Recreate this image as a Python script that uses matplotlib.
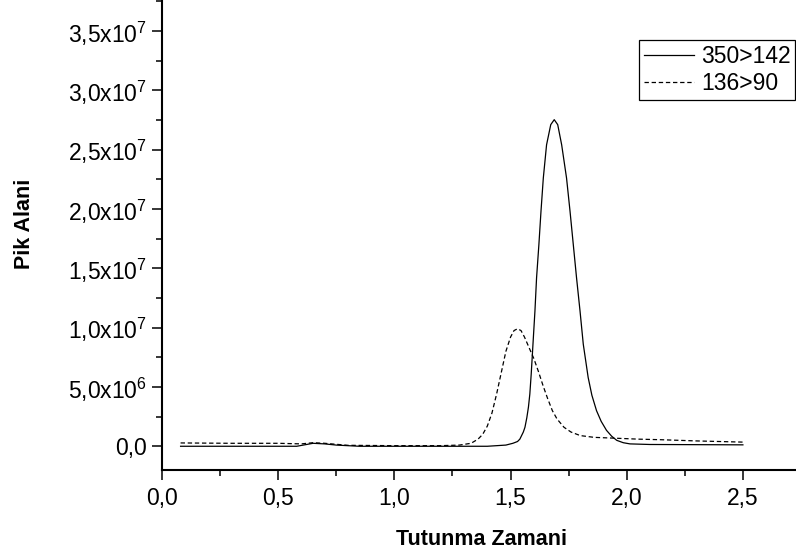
import matplotlib
matplotlib.use('Agg')
import matplotlib.pyplot as plt
from matplotlib.ticker import MultipleLocator

plt.rcParams['font.family'] = ['Liberation Sans', 'DejaVu Sans']
plt.rcParams['mathtext.fontset'] = 'custom'
plt.rcParams['mathtext.rm'] = 'Liberation Sans'
plt.rcParams['mathtext.default'] = 'regular'

# retention time (x) and peak area (y, in 1e7)
x_350 = [0.08, 0.30, 0.50, 0.58, 0.65, 0.70, 0.75, 0.85, 1.00, 1.20, 1.40, 1.48,
         1.51, 1.53, 1.54, 1.555, 1.562, 1.570, 1.577, 1.583, 1.589, 1.595, 1.605,
         1.612, 1.622, 1.631, 1.641, 1.655, 1.673, 1.688, 1.703, 1.720, 1.741,
         1.756, 1.770, 1.784, 1.799, 1.813, 1.834, 1.850, 1.870, 1.890, 1.913,
         1.935, 1.957, 1.985, 2.014, 2.10, 2.50]
y_350 = [0.0, 0.0, 0.0, 0.0, 0.025, 0.02, 0.01, 0.0, 0.0, 0.0, 0.0, 0.01,
         0.025, 0.04, 0.06, 0.12, 0.16, 0.24, 0.33, 0.44, 0.61, 0.81, 1.14,
         1.42, 1.70, 1.98, 2.26, 2.54, 2.71, 2.752, 2.71, 2.54, 2.26,
         1.98, 1.70, 1.42, 1.14, 0.86, 0.58, 0.43, 0.30, 0.21, 0.134,
         0.085, 0.05, 0.03, 0.02, 0.015, 0.012]

x_136 = [0.08, 0.30, 0.50, 0.60, 0.65, 0.70, 0.80, 1.00, 1.20, 1.28, 1.33, 1.36,
         1.38, 1.40, 1.42, 1.44, 1.46, 1.48, 1.50, 1.515, 1.53, 1.545, 1.56, 1.58,
         1.60, 1.62, 1.64, 1.66, 1.68, 1.70, 1.73, 1.76, 1.80, 1.86, 1.95, 2.05,
         2.15, 2.30, 2.50]
y_136 = [0.028, 0.025, 0.025, 0.02, 0.03, 0.025, 0.008, 0.005, 0.005, 0.01, 0.025, 0.06,
         0.10, 0.17, 0.28, 0.44, 0.62, 0.80, 0.92, 0.975, 0.99, 0.975, 0.92, 0.83,
         0.74, 0.63, 0.51, 0.40, 0.30, 0.23, 0.16, 0.12, 0.09, 0.075, 0.068, 0.06,
         0.055, 0.045, 0.035]

y_scale = 1e7
y_ticks = [0, 5e6, 1e7, 1.5e7, 2e7, 2.5e7, 3e7, 3.5e7]
y_ticklabels = ['0,0', '5,0x10$^{6}$', '1,0x10$^{7}$', '1,5x10$^{7}$',
                '2,0x10$^{7}$', '2,5x10$^{7}$', '3,0x10$^{7}$', '3,5x10$^{7}$']
x_ticks = [0.0, 0.5, 1.0, 1.5, 2.0, 2.5]
x_ticklabels = ['0,0', '0,5', '1,0', '1,5', '2,0', '2,5']

fig = plt.figure(figsize=(7.96, 5.56), dpi=100)
ax = fig.add_axes([162 / 796, 86 / 556, 639 / 796, 492.5 / 556])

ax.plot(x_350, [v * y_scale for v in y_350], color='black', lw=0.9, label='350>142')
ax.plot(x_136, [v * y_scale for v in y_136], color='black', lw=0.9,
        dashes=(3.5, 2.2), label='136>90')

ax.set_xlim(0, 2.75)
ax.set_ylim(-2e6, 3.95e7)

ax.set_xticks(x_ticks)
ax.set_xticklabels(x_ticklabels)
ax.set_yticks(y_ticks)
ax.set_yticklabels(y_ticklabels)
ax.xaxis.set_minor_locator(MultipleLocator(0.25))
ax.yaxis.set_minor_locator(MultipleLocator(2.5e6))

ax.tick_params(which='major', direction='out', length=7, width=1.1, labelsize=16.5)
ax.tick_params(axis='y', which='major', pad=4)
ax.tick_params(axis='x', which='major', pad=5)
ax.tick_params(which='minor', direction='out', length=4, width=1.1)

for side in ['top', 'right']:
    ax.spines[side].set_visible(False)
for side in ['left', 'bottom']:
    ax.spines[side].set_linewidth(1.5)

ax.set_xlabel('Tutunma Zamani', fontsize=15.5, fontweight='bold', va='center')
ax.set_ylabel('Pik Alani', fontsize=15.5, fontweight='bold', va='center')
ax.xaxis.set_label_coords(0.5, -0.142)
ax.yaxis.set_label_coords(-0.2145, 0.5)

leg = ax.legend(loc='upper right', bbox_to_anchor=(795 / 796, 1 - 40 / 556),
                bbox_transform=fig.transFigure, borderaxespad=0, fontsize=16.5,
                frameon=True, fancybox=False, framealpha=1, handlelength=2.2,
                handletextpad=0.3, labelspacing=0.2, borderpad=0.2)
leg.get_frame().set_edgecolor('black')
leg.get_frame().set_linewidth(0.9)

fig.savefig('out.png', dpi=100)
